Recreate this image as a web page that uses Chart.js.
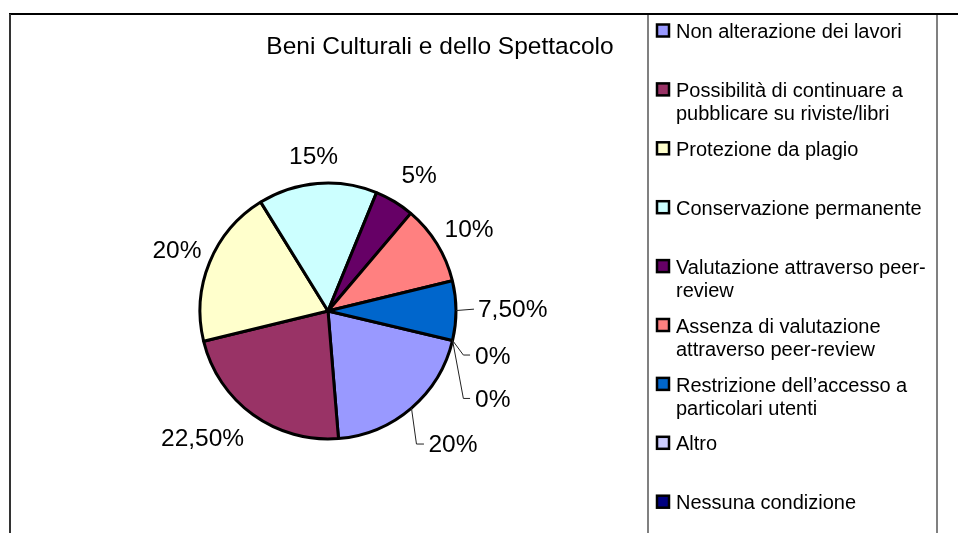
<!DOCTYPE html>
<html>
<head>
<meta charset="utf-8">
<script src="https://cdn.jsdelivr.net/npm/chart.js@4/dist/chart.umd.min.js"></script>
<style>
  html, body { margin: 0; padding: 0; background: #fff; }
  #wrap { width: 958px; height: 533px; position: relative; }
</style>
</head>
<body>
<div id="wrap"><canvas id="c" width="958" height="533"></canvas></div>
<script>
// Survey answers for one subject area, as shares of respondents (%)
const chartTitle = 'Beni Culturali e dello Spettacolo';
const categories = [
  'Non alterazione dei lavori',
  'Possibilità di continuare a pubblicare su riviste/libri',
  'Protezione da plagio',
  'Conservazione permanente',
  'Valutazione attraverso peer-review',
  'Assenza di valutazione attraverso peer-review',
  'Restrizione dell\u2019accesso a particolari utenti',
  'Altro',
  'Nessuna condizione'
];
const shares = [20, 22.5, 20, 15, 5, 10, 7.5, 0, 0];
const sliceColors = ['#9999FF', '#993366', '#FFFFCC', '#CCFFFF', '#660066', '#FF8080', '#0066CC', '#CCCCFF', '#000080'];

// Percent text in Italian style: whole numbers bare, others with two decimals
function formatShare(v) {
  return Number.isInteger(v) ? v + '%' : v.toFixed(2).replace('.', ',') + '%';
}

const FONT = '"Liberation Sans", Arial, sans-serif';
const PIE_R = 128;

// Where each value label sits, relative to the slice's mid-angle.
// 'nudge': shift from the point at labelDist on the mid-angle ray.
// 'leader': polyline from the slice edge, then the text's left/cap-centre.
const labelDist = 164;
const labelPlacement = [
  { leader: [[5, 36], [12.5, 36]], text: [17, 35.5] },
  { nudge: [-29.5, -6.5] },
  { nudge: [0.7, 0] },
  { nudge: [-1, 8] },
  { nudge: [6, 3.5] },
  { nudge: [1.5, 3.6] },
  { leader: [[18, -1.4]], text: [22, -2.6] },
  { leader: [[10.8, 14.6], [17.5, 14.6]], text: [22.5, 14.6] },
  { leader: [[10.8, 58], [17.5, 58]], text: [22.5, 58] }
];

function wrapText(ctx, text, maxW) {
  // break at spaces and after hyphens
  const tokens = text.match(/[^\s-]+-?|\s+/g) || [];
  const lines = [];
  let cur = '';
  for (const t of tokens) {
    const trial = cur + t;
    if (cur && ctx.measureText(trial.trimEnd()).width > maxW) {
      lines.push(cur.trimEnd());
      cur = t.trimStart();
    } else {
      cur = trial;
    }
  }
  if (cur.trim()) lines.push(cur.trimEnd());
  return lines;
}

const decorations = {
  id: 'decorations',
  afterDraw(chart) {
    const ctx = chart.ctx;
    ctx.save();

    // outer frame
    ctx.lineCap = 'butt';
    ctx.strokeStyle = '#000';
    ctx.lineWidth = 2;
    ctx.beginPath(); ctx.moveTo(9, 14); ctx.lineTo(958, 14); ctx.stroke();
    ctx.strokeStyle = '#333';
    ctx.beginPath(); ctx.moveTo(10, 14); ctx.lineTo(10, 533); ctx.stroke();
    // legend box sides
    ctx.strokeStyle = '#808080';
    ctx.beginPath(); ctx.moveTo(648, 15); ctx.lineTo(648, 533); ctx.stroke();
    ctx.beginPath(); ctx.moveTo(937, 15); ctx.lineTo(937, 533); ctx.stroke();

    // title
    ctx.fillStyle = '#000';
    ctx.font = '24.5px ' + FONT;
    ctx.textAlign = 'center';
    ctx.textBaseline = 'alphabetic';
    ctx.fillText(chartTitle, 440, 45.5 + 0.358 * 24.5);

    // value labels
    const meta = chart.getDatasetMeta(0);
    const lsize = 24.5;
    ctx.font = lsize + 'px ' + FONT;
    meta.data.forEach((arc, i) => {
      const p = arc.getProps(['x', 'y', 'startAngle', 'endAngle', 'outerRadius'], true);
      const mid = (p.startAngle + p.endAngle) / 2;
      const cx = Math.cos(mid), cy = Math.sin(mid);
      const txt = formatShare(shares[i]);
      const place = labelPlacement[i];
      if (place.leader) {
        const ax = p.x + cx * p.outerRadius, ay = p.y + cy * p.outerRadius;
        ctx.strokeStyle = '#222';
        ctx.lineWidth = 1;
        ctx.beginPath();
        ctx.moveTo(ax, ay);
        place.leader.forEach(([dx, dy]) => ctx.lineTo(ax + dx, ay + dy));
        ctx.stroke();
        ctx.textAlign = 'left';
        ctx.fillText(txt, ax + place.text[0], ay + place.text[1] + 0.358 * lsize);
      } else {
        const lx = p.x + cx * labelDist + place.nudge[0];
        const ly = p.y + cy * labelDist + place.nudge[1];
        ctx.textAlign = 'center';
        ctx.fillText(txt, lx, ly + 0.358 * lsize);
      }
    });

    // legend
    const fs = 20;
    ctx.font = fs + 'px ' + FONT;
    ctx.textAlign = 'left';
    const rowStart = 31, rowStep = 58.9, lineStep = 23;
    categories.forEach((name, i) => {
      const yc = rowStart + i * rowStep;
      ctx.fillStyle = sliceColors[i];
      ctx.fillRect(657, yc - 6.5, 12, 12);
      ctx.strokeStyle = '#000';
      ctx.lineWidth = 2.5;
      ctx.strokeRect(657, yc - 6.5, 12, 12);
      ctx.fillStyle = '#000';
      wrapText(ctx, name, 258).forEach((line, k) => {
        ctx.fillText(line, 676, yc + k * lineStep + 0.358 * fs);
      });
    });

    ctx.restore();
  }
};

new Chart(document.getElementById('c'), {
  type: 'pie',
  data: {
    labels: categories,
    datasets: [{
      data: shares,
      backgroundColor: sliceColors,
      borderColor: '#000',
      borderWidth: 3,
      radius: PIE_R,
      rotation: 103.3
    }]
  },
  options: {
    responsive: false,
    animation: false,
    devicePixelRatio: 1,
    rotation: 103.3,
    radius: PIE_R,
    layout: { padding: { left: 190, right: 492, top: 173, bottom: 84 } },
    plugins: {
      legend: { display: false },
      title: { display: false },
      tooltip: { enabled: false }
    }
  },
  plugins: [decorations]
});
</script>
</body>
</html>
